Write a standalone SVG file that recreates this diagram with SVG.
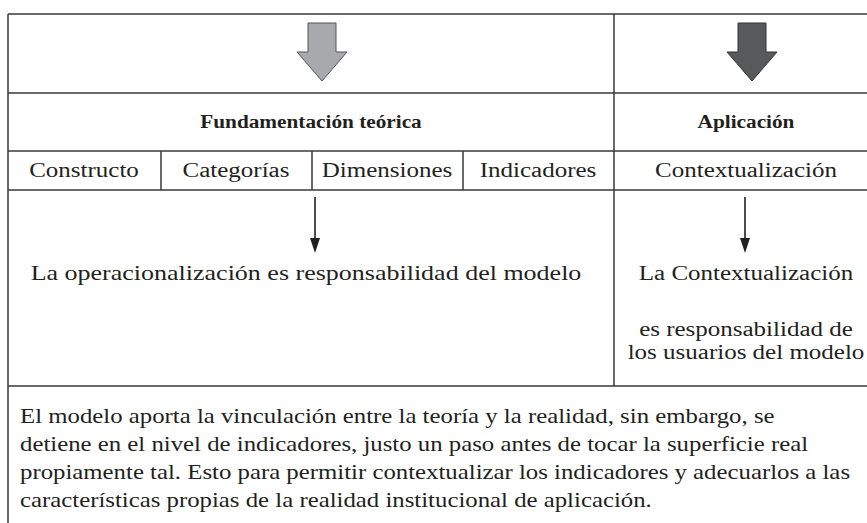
<svg xmlns="http://www.w3.org/2000/svg" width="867" height="523" viewBox="0 0 867 523">
<rect width="867" height="523" fill="#ffffff"/>
<g id="table" stroke="#3a3a3a" stroke-width="1.5" fill="none">
<path d="M8,14 H867 M8,14 V523 M614,14 V386 M8,93 H867 M8,151 H867 M8,190 H867 M8,386 H867 M161,151 V190 M312,151 V190 M463,151 V190"/>
</g>
<g id="arrow-gray">
<path d="M308,23 H336 V52 H347 L322,81 L297,52 H308 Z" fill="#a7a9ac" stroke="#555" stroke-width="1"/>
</g>
<g id="arrow-dark">
<path d="M738,23 H766 V52 H777 L752,81 L727,52 H738 Z" fill="#58595b" stroke="#333" stroke-width="1"/>
</g>
<g id="header-fund"><text font-family="Liberation Serif" font-size="19" font-weight="bold" fill="#231f20" text-anchor="middle" transform="translate(311,128) scale(1.12,1)">Fundamentación teórica</text></g>
<g id="header-apl"><text font-family="Liberation Serif" font-size="19" font-weight="bold" fill="#231f20" text-anchor="middle" transform="translate(746,128) scale(1.12,1)">Aplicación</text></g>
<g id="constructo"><text font-family="Liberation Serif" font-size="20" fill="#231f20" text-anchor="middle" transform="translate(84,177) scale(1.25,1)">Constructo</text></g>
<g id="categorias"><text font-family="Liberation Serif" font-size="20" fill="#231f20" text-anchor="middle" transform="translate(236,177) scale(1.25,1)">Categorías</text></g>
<g id="dimensiones"><text font-family="Liberation Serif" font-size="20" fill="#231f20" text-anchor="middle" transform="translate(387,177) scale(1.25,1)">Dimensiones</text></g>
<g id="indicadores"><text font-family="Liberation Serif" font-size="20" fill="#231f20" text-anchor="middle" transform="translate(538,177) scale(1.25,1)">Indicadores</text></g>
<g id="contextualizacion"><text font-family="Liberation Serif" font-size="20" fill="#231f20" text-anchor="middle" transform="translate(746,177) scale(1.25,1)">Contextualización</text></g>
<g id="operacionalizacion"><text font-family="Liberation Serif" font-size="20" fill="#231f20" text-anchor="middle" transform="translate(306,280) scale(1.3,1)">La operacionalización es responsabilidad del modelo</text></g>
<g id="contextualizacion-resp">
<text font-family="Liberation Serif" font-size="20" fill="#231f20" text-anchor="middle" transform="translate(746,280) scale(1.25,1)">La Contextualización</text>
<text font-family="Liberation Serif" font-size="20" fill="#231f20" text-anchor="middle" transform="translate(746,336) scale(1.25,1)">es responsabilidad de</text>
<text font-family="Liberation Serif" font-size="20" fill="#231f20" text-anchor="middle" transform="translate(746,359) scale(1.25,1)">los usuarios del modelo</text>
</g>
<g id="nota">
<text font-family="Liberation Serif" font-size="20" fill="#231f20" transform="translate(20,423) scale(1.24,1)">El modelo aporta la vinculación entre la teoría y la realidad, sin embargo, se</text>
<text font-family="Liberation Serif" font-size="20" fill="#231f20" transform="translate(20,451) scale(1.24,1)">detiene en el nivel de indicadores, justo un paso antes de tocar la superficie real</text>
<text font-family="Liberation Serif" font-size="20" fill="#231f20" transform="translate(20,479) scale(1.24,1)">propiamente tal. Esto para permitir contextualizar los indicadores y adecuarlos a las</text>
<text font-family="Liberation Serif" font-size="20" fill="#231f20" transform="translate(20,507) scale(1.24,1)">características propias de la realidad institucional de aplicación.</text>
</g>
<g id="connectors" stroke="#231f20" stroke-width="1.6">
<line x1="315" y1="197" x2="315" y2="240"/>
<path d="M310,238 L320,238 L315,253 Z" fill="#231f20" stroke="none"/>
<line x1="745" y1="197" x2="745" y2="240"/>
<path d="M740,238 L750,238 L745,253 Z" fill="#231f20" stroke="none"/>
</g>
</svg>
